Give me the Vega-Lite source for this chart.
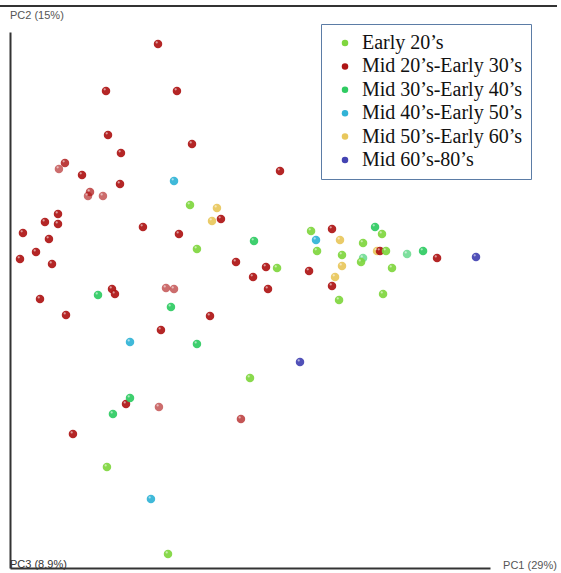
{
  "$schema": "https://vega.github.io/schema/vega-lite/v6.json",
  "width": 480,
  "height": 536,
  "autosize": {"type": "none"},
  "padding": {"left": 10, "top": 32, "right": 71, "bottom": 5},
  "background": "white",
  "datasets": {
    "samples": [
      {"group": "Mid 50’s-Early 60’s", "PC1": 0.1588, "PC2": 0.0463, "PC3": 0.02},
      {"group": "Mid 30’s-Early 40’s", "PC1": 0.1413, "PC2": 0.0375, "PC3": -0.1},
      {"group": "Mid 30’s-Early 40’s", "PC1": 0.1963, "PC2": 0.0425, "PC3": -0.1},
      {"group": "Mid 20’s-Early 30’s", "PC1": -0.115, "PC2": 0.305, "PC3": 0.02},
      {"group": "Mid 20’s-Early 30’s", "PC1": -0.18, "PC2": 0.2463, "PC3": 0.02},
      {"group": "Mid 20’s-Early 30’s", "PC1": -0.0913, "PC2": 0.2463, "PC3": 0.02},
      {"group": "Mid 20’s-Early 30’s", "PC1": -0.1775, "PC2": 0.1913, "PC3": 0.02},
      {"group": "Mid 20’s-Early 30’s", "PC1": -0.1613, "PC2": 0.1688, "PC3": 0.02},
      {"group": "Mid 20’s-Early 30’s", "PC1": -0.0725, "PC2": 0.18, "PC3": 0.02},
      {"group": "Mid 20’s-Early 30’s", "PC1": -0.2388, "PC2": 0.1488, "PC3": -0.1},
      {"group": "Mid 20’s-Early 30’s", "PC1": -0.2313, "PC2": 0.1563, "PC3": -0.02},
      {"group": "Mid 20’s-Early 30’s", "PC1": -0.21, "PC2": 0.1413, "PC3": 0.02},
      {"group": "Mid 20’s-Early 30’s", "PC1": -0.1625, "PC2": 0.13, "PC3": 0.02},
      {"group": "Mid 20’s-Early 30’s", "PC1": -0.2, "PC2": 0.12, "PC3": -0.06},
      {"group": "Mid 20’s-Early 30’s", "PC1": -0.2025, "PC2": 0.115, "PC3": -0.1},
      {"group": "Mid 20’s-Early 30’s", "PC1": -0.1838, "PC2": 0.115, "PC3": -0.1},
      {"group": "Mid 20’s-Early 30’s", "PC1": 0.0375, "PC2": 0.1463, "PC3": 0.02},
      {"group": "Mid 20’s-Early 30’s", "PC1": -0.0363, "PC2": 0.0863, "PC3": 0.02},
      {"group": "Mid 20’s-Early 30’s", "PC1": -0.24, "PC2": 0.0925, "PC3": 0.02},
      {"group": "Mid 20’s-Early 30’s", "PC1": -0.2563, "PC2": 0.0825, "PC3": 0.02},
      {"group": "Mid 20’s-Early 30’s", "PC1": -0.24, "PC2": 0.08, "PC3": 0.02},
      {"group": "Mid 20’s-Early 30’s", "PC1": -0.2838, "PC2": 0.0688, "PC3": 0.02},
      {"group": "Mid 20’s-Early 30’s", "PC1": -0.2513, "PC2": 0.0613, "PC3": 0.02},
      {"group": "Mid 20’s-Early 30’s", "PC1": -0.2675, "PC2": 0.045, "PC3": 0.02},
      {"group": "Mid 20’s-Early 30’s", "PC1": -0.2875, "PC2": 0.0363, "PC3": 0.02},
      {"group": "Mid 20’s-Early 30’s", "PC1": -0.2475, "PC2": 0.03, "PC3": 0.02},
      {"group": "Mid 20’s-Early 30’s", "PC1": -0.1338, "PC2": 0.0763, "PC3": 0.02},
      {"group": "Mid 20’s-Early 30’s", "PC1": -0.0888, "PC2": 0.0675, "PC3": 0.02},
      {"group": "Mid 20’s-Early 30’s", "PC1": -0.2625, "PC2": -0.0138, "PC3": 0.02},
      {"group": "Mid 20’s-Early 30’s", "PC1": -0.23, "PC2": -0.0338, "PC3": 0.02},
      {"group": "Mid 20’s-Early 30’s", "PC1": -0.1725, "PC2": -0.0013, "PC3": 0.02},
      {"group": "Mid 20’s-Early 30’s", "PC1": -0.1688, "PC2": -0.0075, "PC3": 0.02},
      {"group": "Mid 20’s-Early 30’s", "PC1": -0.105, "PC2": 0.0, "PC3": -0.1},
      {"group": "Mid 20’s-Early 30’s", "PC1": -0.095, "PC2": -0.0013, "PC3": -0.1},
      {"group": "Mid 20’s-Early 30’s", "PC1": -0.1113, "PC2": -0.0525, "PC3": 0.02},
      {"group": "Mid 20’s-Early 30’s", "PC1": -0.155, "PC2": -0.145, "PC3": 0.02},
      {"group": "Mid 20’s-Early 30’s", "PC1": -0.1138, "PC2": -0.1488, "PC3": -0.1},
      {"group": "Mid 20’s-Early 30’s", "PC1": -0.2213, "PC2": -0.1825, "PC3": 0.02},
      {"group": "Mid 20’s-Early 30’s", "PC1": -0.0175, "PC2": 0.0325, "PC3": 0.02},
      {"group": "Mid 20’s-Early 30’s", "PC1": 0.02, "PC2": 0.0263, "PC3": 0.02},
      {"group": "Mid 20’s-Early 30’s", "PC1": 0.0038, "PC2": 0.0138, "PC3": 0.02},
      {"group": "Mid 20’s-Early 30’s", "PC1": 0.0225, "PC2": -0.0013, "PC3": 0.02},
      {"group": "Mid 20’s-Early 30’s", "PC1": -0.05, "PC2": -0.035, "PC3": 0.02},
      {"group": "Mid 20’s-Early 30’s", "PC1": 0.1025, "PC2": 0.0738, "PC3": 0.02},
      {"group": "Mid 20’s-Early 30’s", "PC1": 0.0738, "PC2": 0.0213, "PC3": 0.02},
      {"group": "Mid 20’s-Early 30’s", "PC1": 0.1025, "PC2": 0.0025, "PC3": 0.02},
      {"group": "Mid 20’s-Early 30’s", "PC1": 0.1625, "PC2": 0.0463, "PC3": 0.02},
      {"group": "Mid 20’s-Early 30’s", "PC1": 0.2338, "PC2": 0.0375, "PC3": 0.02},
      {"group": "Mid 20’s-Early 30’s", "PC1": -0.0113, "PC2": -0.1638, "PC3": -0.06},
      {"group": "Mid 50’s-Early 60’s", "PC1": -0.0413, "PC2": 0.1, "PC3": 0.02},
      {"group": "Mid 50’s-Early 60’s", "PC1": -0.0475, "PC2": 0.0838, "PC3": 0.02},
      {"group": "Mid 50’s-Early 60’s", "PC1": 0.1125, "PC2": 0.06, "PC3": 0.02},
      {"group": "Mid 50’s-Early 60’s", "PC1": 0.115, "PC2": 0.0275, "PC3": 0.02},
      {"group": "Mid 50’s-Early 60’s", "PC1": 0.1063, "PC2": 0.0138, "PC3": 0.02},
      {"group": "Mid 40’s-Early 50’s", "PC1": -0.095, "PC2": 0.1338, "PC3": 0.02},
      {"group": "Mid 40’s-Early 50’s", "PC1": -0.15, "PC2": -0.0675, "PC3": 0.02},
      {"group": "Mid 40’s-Early 50’s", "PC1": -0.1238, "PC2": -0.2638, "PC3": 0.02},
      {"group": "Mid 40’s-Early 50’s", "PC1": 0.0825, "PC2": 0.06, "PC3": 0.02},
      {"group": "Mid 30’s-Early 40’s", "PC1": -0.19, "PC2": -0.0088, "PC3": 0.02},
      {"group": "Mid 30’s-Early 40’s", "PC1": -0.0988, "PC2": -0.0238, "PC3": 0.02},
      {"group": "Mid 30’s-Early 40’s", "PC1": -0.0663, "PC2": -0.07, "PC3": 0.02},
      {"group": "Mid 30’s-Early 40’s", "PC1": -0.15, "PC2": -0.1375, "PC3": 0.02},
      {"group": "Mid 30’s-Early 40’s", "PC1": -0.1713, "PC2": -0.1575, "PC3": 0.02},
      {"group": "Mid 30’s-Early 40’s", "PC1": 0.005, "PC2": 0.0588, "PC3": 0.02},
      {"group": "Mid 30’s-Early 40’s", "PC1": 0.1563, "PC2": 0.0763, "PC3": 0.02},
      {"group": "Mid 30’s-Early 40’s", "PC1": 0.2163, "PC2": 0.0463, "PC3": 0.02},
      {"group": "Early 20’s", "PC1": -0.075, "PC2": 0.1038, "PC3": 0.02},
      {"group": "Early 20’s", "PC1": -0.0663, "PC2": 0.0488, "PC3": 0.02},
      {"group": "Early 20’s", "PC1": -0.1788, "PC2": -0.2238, "PC3": 0.02},
      {"group": "Early 20’s", "PC1": -0.1025, "PC2": -0.3325, "PC3": 0.02},
      {"group": "Early 20’s", "PC1": 0.0338, "PC2": 0.025, "PC3": 0.02},
      {"group": "Early 20’s", "PC1": 0.0, "PC2": -0.1125, "PC3": 0.02},
      {"group": "Early 20’s", "PC1": 0.0763, "PC2": 0.0713, "PC3": 0.02},
      {"group": "Early 20’s", "PC1": 0.0838, "PC2": 0.0463, "PC3": 0.02},
      {"group": "Early 20’s", "PC1": 0.115, "PC2": 0.0413, "PC3": 0.02},
      {"group": "Early 20’s", "PC1": 0.1113, "PC2": -0.015, "PC3": 0.02},
      {"group": "Early 20’s", "PC1": 0.1413, "PC2": 0.0563, "PC3": 0.02},
      {"group": "Early 20’s", "PC1": 0.1388, "PC2": 0.0325, "PC3": 0.02},
      {"group": "Early 20’s", "PC1": 0.165, "PC2": 0.0675, "PC3": 0.02},
      {"group": "Early 20’s", "PC1": 0.17, "PC2": 0.0463, "PC3": 0.02},
      {"group": "Early 20’s", "PC1": 0.1775, "PC2": 0.025, "PC3": 0.02},
      {"group": "Early 20’s", "PC1": 0.1663, "PC2": -0.0075, "PC3": 0.02},
      {"group": "Mid 60’s-80’s", "PC1": 0.0625, "PC2": -0.0925, "PC3": 0.02},
      {"group": "Mid 60’s-80’s", "PC1": 0.2825, "PC2": 0.0388, "PC3": 0.02}
    ]
  },
  "layer": [
    {
      "data": {"name": "samples"},
      "mark": {"type": "point", "filled": true, "shape": "circle", "size": 72, "strokeWidth": 0},
      "encoding": {
        "x": {"field": "PC1", "type": "quantitative", "title": null,
              "scale": {"domain": [-0.3, 0.3], "nice": false, "zero": false}},
        "y": {"field": "PC2", "type": "quantitative", "title": null,
              "scale": {"domain": [-0.35, 0.32], "nice": false, "zero": false}},
        "color": {
          "field": "group", "type": "nominal", "title": null,
          "scale": {
            "domain": ["Early 20’s", "Mid 20’s-Early 30’s", "Mid 30’s-Early 40’s", "Mid 40’s-Early 50’s", "Mid 50’s-Early 60’s", "Mid 60’s-80’s"],
            "range": ["#7fd63f", "#ae1515", "#2fcb62", "#31b3d6", "#e8c75c", "#4343b2"]
          }
        },
        "opacity": {"field": "PC3", "type": "quantitative", "legend": null,
                    "scale": {"domain": [-0.15, 0.05], "range": [0.5, 1]}}
      }
    },
    {
      "data": {"name": "samples"},
      "mark": {"type": "point", "filled": true, "shape": "circle", "size": 5, "color": "white", "opacity": 0.55, "xOffset": -1.3, "yOffset": -1.6, "strokeWidth": 0},
      "encoding": {
        "x": {"field": "PC1", "type": "quantitative", "title": null},
        "y": {"field": "PC2", "type": "quantitative", "title": null}
      }
    },
    {
      "data": {"values": [{}]},
      "mark": {"type": "rule", "color": "#333333", "strokeWidth": 2},
      "encoding": {
        "x": {"datum": -0.3125, "type": "quantitative", "title": null},
        "x2": {"datum": 0.38375},
        "y": {"datum": 0.3525, "type": "quantitative", "title": null}
      }
    },
    {
      "data": {"values": [{}]},
      "mark": {"type": "text", "text": "PC2 (15%)", "font": "Liberation Sans", "fontSize": 11, "color": "#555555", "align": "left", "baseline": "middle"},
      "encoding": {
        "x": {"datum": -0.3, "type": "quantitative", "title": null},
        "y": {"datum": 0.34, "type": "quantitative", "title": null}
      }
    },
    {
      "data": {"values": [{}]},
      "mark": {"type": "text", "text": "PC3 (8.9%)", "font": "Liberation Sans", "fontSize": 11, "color": "#333333", "align": "left", "baseline": "middle"},
      "encoding": {
        "x": {"datum": -0.3, "type": "quantitative", "title": null},
        "y": {"datum": -0.3463, "type": "quantitative", "title": null}
      }
    },
    {
      "data": {"values": [{}]},
      "mark": {"type": "text", "text": "PC1 (29%)", "font": "Liberation Sans", "fontSize": 11, "color": "#555555", "align": "left", "baseline": "middle"},
      "encoding": {
        "x": {"datum": 0.3163, "type": "quantitative", "title": null},
        "y": {"datum": -0.3475, "type": "quantitative", "title": null}
      }
    }
  ],
  "config": {
    "view": {"stroke": null},
    "axis": {"domainColor": "#333333", "domainWidth": 2, "ticks": false, "labels": false, "grid": false, "title": null},
    "legend": {
      "orient": "none",
      "legendX": 311,
      "legendY": -8,
      "strokeColor": "#5b7ca6",
      "fillColor": "white",
      "padding": 9,
      "labelFont": "Liberation Serif",
      "labelFontSize": 20,
      "labelColor": "#111111",
      "labelLimit": 0,
      "symbolType": "circle",
      "symbolSize": 42,
      "symbolStrokeWidth": 0,
      "symbolOpacity": 1,
      "symbolOffset": 5,
      "labelOffset": 7,
      "rowPadding": 3.4
    }
  }
}
